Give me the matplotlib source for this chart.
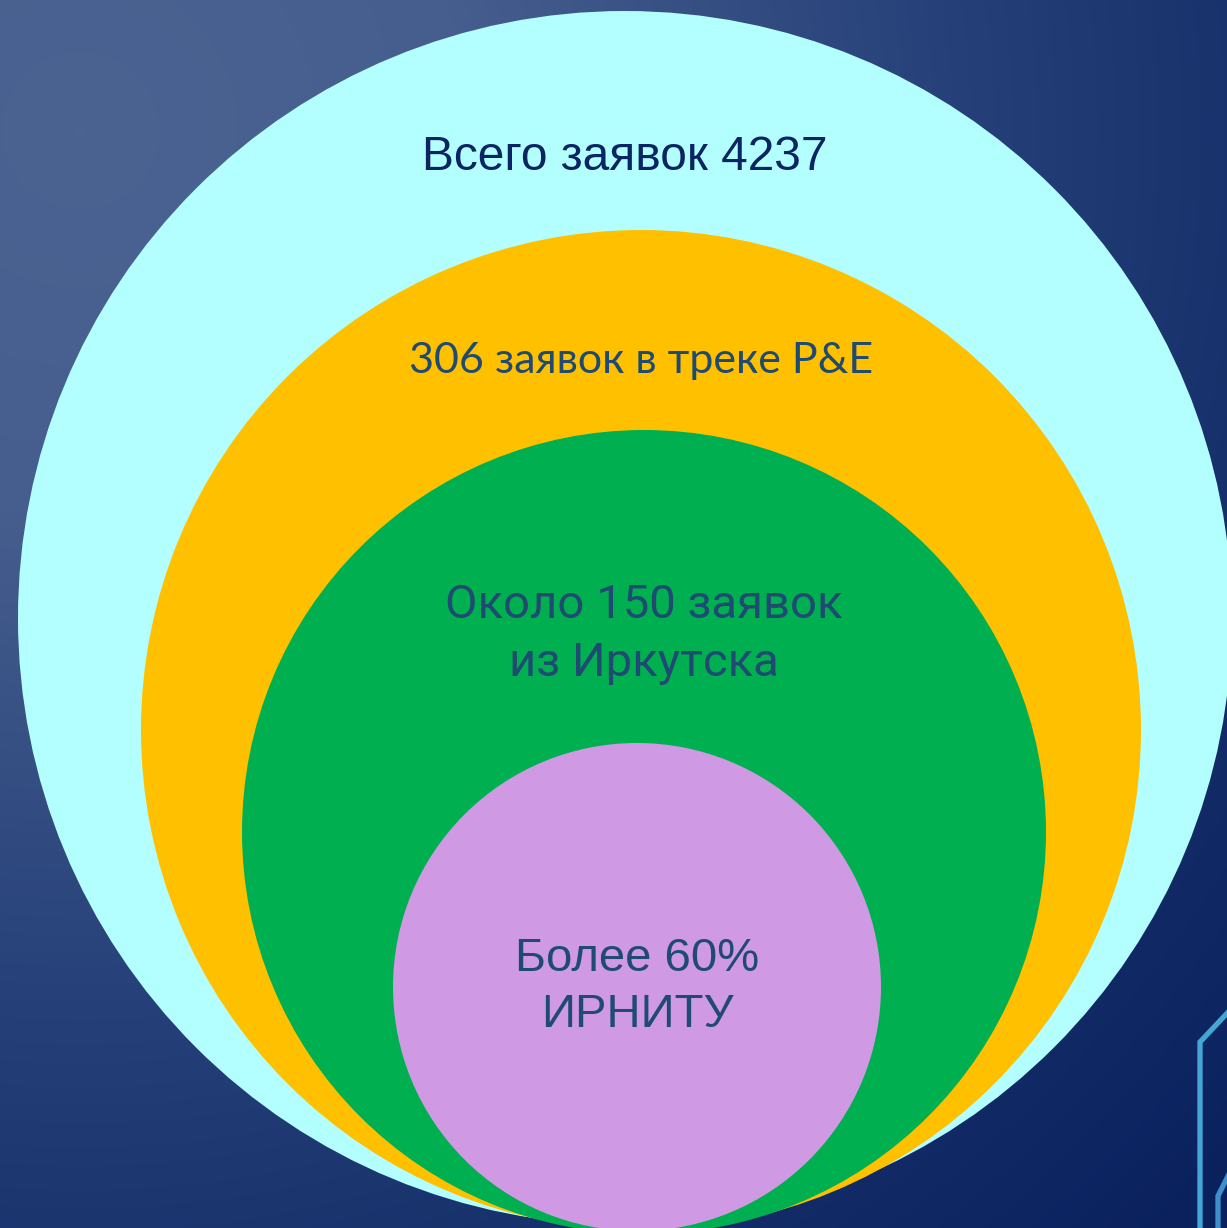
import numpy as np
import matplotlib.pyplot as plt
from matplotlib.patches import Circle
from matplotlib.colors import LinearSegmentedColormap

# data: nested groups of applications
groups = ['Всего заявок', 'заявок в треке P&E', 'Около {} заявок\nиз Иркутска', 'Более {}%\nИРНИТУ']
counts = [4237, 306, 150, 60]
colors = ['#B3FFFF', '#FFC000', '#00B050', '#CF99E3']

# layout (pixels, y down): circle centers / radii and label positions
centers = [(625, 618), (641, 730), (644, 832), (637, 987)]
radii = [607, 500, 402, 244]
label_y = [158, 361, 634, 987]
text_colors = ['#0B2462', '#1F4A72', '#1F4A72', '#1F4A72']
fonts = ['Liberation Sans', 'Lato', 'Roboto', 'Liberation Sans']
sizes = [34.5, 31, 34, 34]

W, H = 1227, 1228
fig = plt.figure(figsize=(W / 100, H / 100), dpi=100)
ax = fig.add_axes([0, 0, 1, 1])
ax.set_xlim(0, W)
ax.set_ylim(H, 0)
ax.axis('off')

# background radial gradient
yy, xx = np.mgrid[0:H, 0:W]
d = np.hypot(xx - 80, yy - 130) / 1550
d = np.clip(d, 0, 1)
bg = LinearSegmentedColormap.from_list(
    'bg', [(0, '#4B6391'), (0.25, '#465E8E'), (0.55, '#27427A'), (0.8, '#142E69'), (1, '#0A215E')])
ax.imshow(bg(d), extent=(0, W, H, 0), zorder=0, interpolation='bilinear')

# corner decoration
ax.plot([1200, 1200, 1232], [1232, 1042, 1008], color='#45A6D3', lw=3.8, zorder=1,
        solid_joinstyle='miter')
ax.plot([1218, 1218, 1232], [1232, 1196, 1168], color='#3F8FCC', lw=3.8, zorder=1,
        solid_joinstyle='miter')

for i, (c, r, col) in enumerate(zip(centers, radii, colors)):
    ax.add_patch(Circle(c, r, facecolor=col, edgecolor='none', zorder=2 + i))

labels = [
    f'{groups[0]} {counts[0]}',
    f'{counts[1]} {groups[1]}',
    groups[2].format(counts[2]),
    groups[3].format(counts[3]),
]
for i, lab in enumerate(labels):
    ax.text(centers[i][0], label_y[i], lab, ha='center', va='center', color=text_colors[i],
            fontsize=sizes[i], family=[fonts[i], 'DejaVu Sans'], linespacing=1.38, zorder=10)

fig.savefig('out.png', dpi=100)
